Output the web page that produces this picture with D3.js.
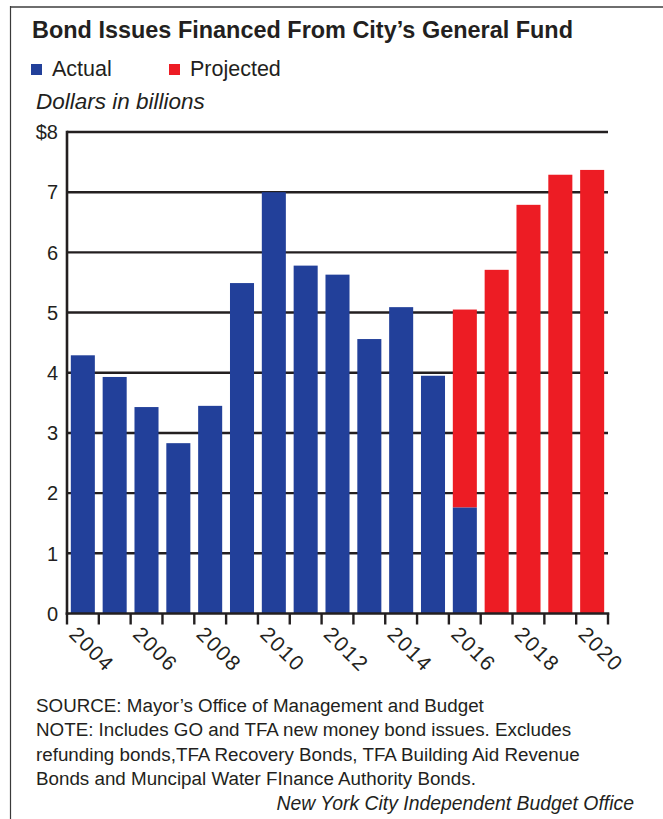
<!DOCTYPE html>
<html>
<head>
<meta charset="utf-8">
<script src="https://cdn.jsdelivr.net/npm/d3@7"></script>
<style>
  html, body { margin: 0; padding: 0; background: #fff; }
  svg { display: block; }
  text { font-family: "Liberation Sans", Arial, sans-serif; fill: #231f20; }
</style>
</head>
<body>
<svg id="chart" width="663" height="819"></svg>
<script>
// Fiscal years on the x axis
const years = [2004, 2005, 2006, 2007, 2008, 2009, 2010, 2011, 2012,
               2013, 2014, 2015, 2016, 2017, 2018, 2019, 2020];
// Actual bond issues, $ billions (2016 is the portion issued so far)
const actual = [4.29, 3.93, 3.43, 2.83, 3.45, 5.49, 7.0, 5.78, 5.63,
                4.56, 5.09, 3.95, 1.76, null, null, null, null];
// Projected totals, $ billions
const projected = [null, null, null, null, null, null, null, null, null,
                   null, null, null, 5.05, 5.71, 6.79, 7.29, 7.37];
// Axis labels
const yTicks = [0, 1, 2, 3, 4, 5, 6, 7, 8];
const yTickLabels = ["0", "1", "2", "3", "4", "5", "6", "7", "$8"];
const xLabelYears = [2004, 2006, 2008, 2010, 2012, 2014, 2016, 2018, 2020];
const legendItems = ["Actual", "Projected"];
const noteLines = [
  "SOURCE: Mayor\u2019s Office of Management and Budget",
  "NOTE: Includes GO and TFA new money bond issues. Excludes",
  "refunding bonds,TFA Recovery Bonds, TFA Building Aid Revenue",
  "Bonds and Muncipal Water FInance Authority Bonds."
];

const BLUE = "#22409a";
const RED = "#ed1c24";
const INK = "#231f20";

const svg = d3.select("#chart");

// Panel frame: grey rule along the top, thin rule down the left side
svg.append("line").attr("x1", 10).attr("x2", 663).attr("y1", 7).attr("y2", 7)
  .attr("stroke", "#6e6e6e").attr("stroke-width", 2.2);
svg.append("line").attr("x1", 10.5).attr("x2", 10.5).attr("y1", 6).attr("y2", 819)
  .attr("stroke", "#3a3a3a").attr("stroke-width", 1.2);

// Title, set in a condensed bold face
svg.append("text")
  .attr("x", 32).attr("y", 38)
  .attr("textLength", 541).attr("lengthAdjust", "spacingAndGlyphs")
  .style("font-weight", "bold").style("font-size", "24px")
  .text("Bond Issues Financed From City\u2019s General Fund");

// Legend
const legendX = [31, 169];
const legendColor = [BLUE, RED];
legendItems.forEach((name, i) => {
  svg.append("rect").attr("x", legendX[i]).attr("y", 64).attr("width", 11).attr("height", 11)
    .attr("fill", legendColor[i]);
  svg.append("text").attr("x", legendX[i] + 21).attr("y", 75.5)
    .style("font-size", "21.5px").text(name);
});

// Unit label
svg.append("text").attr("x", 36).attr("y", 109)
  .style("font-size", "22.5px").style("font-style", "italic")
  .text("Dollars in billions");

// Plot area
const plot = { left: 67, right: 608, top: 132, bottom: 613.5 };

const x = d3.scaleBand()
  .domain(years)
  .range([plot.left, plot.right])
  .paddingInner(0.245)
  .paddingOuter(0.12);

const y = d3.scaleLinear()
  .domain([0, 8])
  .range([plot.bottom, plot.top]);

// Horizontal gridlines
svg.append("g")
  .selectAll("line")
  .data(yTicks.filter(d => d > 0))
  .join("line")
  .attr("x1", plot.left).attr("x2", plot.right)
  .attr("y1", d => y(d)).attr("y2", d => y(d))
  .attr("stroke", INK).attr("stroke-width", 2.4);

// Y tick labels
svg.append("g")
  .selectAll("text")
  .data(yTicks)
  .join("text")
  .attr("x", 58).attr("y", d => y(d))
  .attr("dy", "0.36em")
  .attr("text-anchor", "end")
  .style("font-size", "20px")
  .text((d, i) => yTickLabels[i]);

// Bars
const rows = years.map((yr, i) => ({ year: yr, actual: actual[i], projected: projected[i] }));

// Projected bars (drawn from the actual amount, if any, up to the projected total)
svg.append("g")
  .selectAll("rect")
  .data(rows.filter(d => d.projected != null))
  .join("rect")
  .attr("x", d => x(d.year))
  .attr("width", x.bandwidth())
  .attr("y", d => y(d.projected))
  .attr("height", d => y(d.actual || 0) - y(d.projected))
  .attr("fill", RED);

// Actual bars
svg.append("g")
  .selectAll("rect")
  .data(rows.filter(d => d.actual != null))
  .join("rect")
  .attr("x", d => x(d.year))
  .attr("width", x.bandwidth())
  .attr("y", d => y(d.actual))
  .attr("height", d => y(0) - y(d.actual))
  .attr("fill", BLUE);

// Axes lines
const step = (plot.right - plot.left) / years.length;
svg.append("line")
  .attr("x1", plot.left).attr("x2", plot.left)
  .attr("y1", plot.top - 1.2).attr("y2", plot.bottom + 1.2)
  .attr("stroke", INK).attr("stroke-width", 2.6);
svg.append("line")
  .attr("x1", plot.left - 1.3).attr("x2", plot.right + 1.3)
  .attr("y1", plot.bottom).attr("y2", plot.bottom)
  .attr("stroke", INK).attr("stroke-width", 2.6);

// Category boundary ticks below the baseline
const boundaries = d3.range(years.length + 1).map(i => plot.left + i * step);
svg.append("g")
  .selectAll("line")
  .data(boundaries)
  .join("line")
  .attr("x1", d => d).attr("x2", d => d)
  .attr("y1", plot.bottom).attr("y2", plot.bottom + 11)
  .attr("stroke", INK).attr("stroke-width", 2.4);

// Rotated year labels
svg.append("g")
  .selectAll("text")
  .data(xLabelYears)
  .join("text")
  .attr("transform", d => {
    const bx = plot.left + years.indexOf(d) * step + 1;
    return `translate(${bx},${plot.bottom + 22}) rotate(45)`;
  })
  .style("font-size", "21px")
  .style("letter-spacing", "1.6px")
  .text(d => d);

// Source and notes
svg.append("g")
  .selectAll("text")
  .data(noteLines)
  .join("text")
  .attr("x", 36)
  .attr("y", (d, i) => 711.5 + i * 24.5)
  .style("font-size", "18.8px")
  .text(d => d);

svg.append("text")
  .attr("x", 634).attr("y", 809.5)
  .attr("text-anchor", "end")
  .style("font-size", "19.4px").style("font-style", "italic")
  .text("New York City Independent Budget Office");
</script>
</body>
</html>
